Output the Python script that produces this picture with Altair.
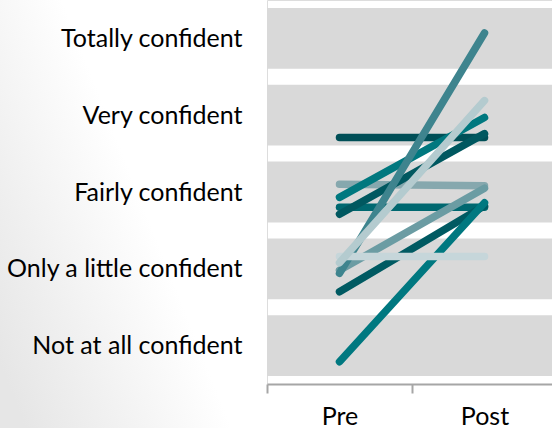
import altair as alt
import pandas as pd

levels = ["Not at all confident", "Only a little confident", "Fairly confident",
          "Very confident", "Totally confident"]
level_values = [1, 2, 3, 4, 5]
times = ["Pre", "Post"]

line_ids = ["A", "B", "C", "D", "E", "J", "K", "H", "I", "F", "G"]
pre_values = [3.71, 3.10, 2.93, 2.80, 2.71, 1.70, 0.79, 1.98, 1.94, 2.16, 2.08]
post_values = [3.71, 3.08, 3.97, 2.80, 3.76, 2.82, 2.86, 3.05, 5.07, 2.16, 4.19]
line_colors = ["#004f57", "#86a8ae", "#00787f", "#006870", "#005860", "#005a62",
               "#007880", "#6b9ca3", "#3e848e", "#c6d6da", "#b4cbcf"]

W, H = 285, 384
FONT = "Lato"

bands = pd.DataFrame({"level": level_values,
                      "lo": [v - 0.396 for v in level_values],
                      "hi": [v + 0.396 for v in level_values]})

label_expr = "{" + ",".join(f"'{v}':'{l}'" for v, l in zip(level_values, levels)) + "}[''+datum.value]"

yscale = alt.Scale(domain=[0.5, 5.5], nice=False, zero=False)
xscale = alt.Scale(domain=times, range=[0, 290], paddingInner=0, paddingOuter=0)

bg = alt.Chart(pd.DataFrame({"a": [0]})).mark_rect(
    fill=alt.Gradient(gradient="linear",
                      stops=[alt.GradientStop(color="#e6e6e6", offset=0),
                             alt.GradientStop(color="#ffffff", offset=1)],
                      x1=0, y1=0.85, x2=0.55, y2=0.5)
).encode(x=alt.value(-267), x2=alt.value(0), y=alt.value(0), y2=alt.value(428))

band_chart = alt.Chart(bands).mark_rect(color="#d9d9d9").encode(
    x=alt.value(0), x2=alt.value(W),
    y=alt.Y("lo:Q", scale=yscale,
            axis=alt.Axis(values=level_values, labelExpr=label_expr, title=None,
                          domain=False, ticks=False, grid=False, zindex=1,
                          labelFontSize=25, labelFont=FONT, labelColor="#000000",
                          labelPadding=25, labelLimit=400)),
    y2="hi:Q",
)

layers = [bg, band_chart]
for lid, pv, qv, col in zip(line_ids, pre_values, post_values, line_colors):
    df = pd.DataFrame({"time": times, "value": [pv, qv], "id": [lid, lid]})
    layers.append(
        alt.Chart(df).mark_line(color=col, strokeWidth=7.5, strokeCap="round").encode(
            x=alt.X("time:N", sort=times, scale=xscale,
                    axis=alt.Axis(title=None, labelAngle=0, tickBand="extent", zindex=1,
                                  domainColor="#a6a6a6", domainWidth=2,
                                  tickColor="#a6a6a6", tickWidth=2, tickSize=9,
                                  labelFontSize=25, labelFont=FONT, labelColor="#000000",
                                  labelPadding=11, grid=False)),
            y=alt.Y("value:Q", scale=yscale),
        )
    )

chart = alt.layer(*layers).properties(
    width=W, height=H,
    autosize=alt.AutoSizeParams(type="none"),
    padding={"left": 267, "top": 0, "right": 0, "bottom": 44},
).configure_view(stroke=None).configure(background="#ffffff")

chart.save("out.html", embed_options={"renderer": "svg", "actions": False})
